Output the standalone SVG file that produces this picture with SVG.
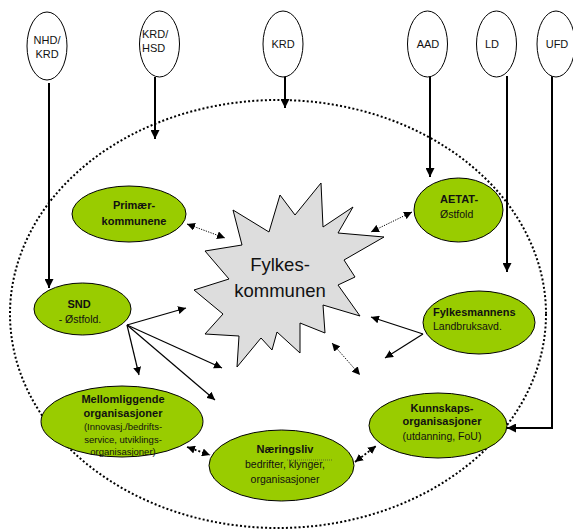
<svg xmlns="http://www.w3.org/2000/svg" width="573" height="532" viewBox="0 0 573 532">
<style>
  .top{fill:#fff;stroke:#000;stroke-width:1}
  .g{fill:#99cc00;stroke:#000;stroke-width:1}
  .t{font-family:"Liberation Sans",Arial,sans-serif;fill:#111}
  .b{font-weight:bold;font-size:11px}
  .r{font-size:10.5px}
  .s{font-size:9.5px}
  .vl{stroke:#000;stroke-width:2;fill:none}
  .sl{stroke:#000;stroke-width:1.2;fill:none}
  .dl{stroke:#000;stroke-width:1;stroke-dasharray:1.2,1.3;fill:none}
  .dl2{stroke:#000;stroke-width:1.8;stroke-dasharray:2,2;fill:none}
</style>
<defs>
  <marker id="a" viewBox="0 0 10 10" refX="10" refY="5" markerWidth="9" markerHeight="9" markerUnits="userSpaceOnUse" orient="auto-start-reverse">
    <path d="M0,0 L10,5 L0,10 z" fill="#000"/>
  </marker>
  <marker id="as" viewBox="0 0 10 10" refX="10" refY="5" markerWidth="8" markerHeight="8" markerUnits="userSpaceOnUse" orient="auto-start-reverse">
    <path d="M0,0 L10,5 L0,10 z" fill="#000"/>
  </marker>
</defs>
<rect width="573" height="532" fill="#fff"/>

<ellipse id="boundary" cx="278" cy="314" rx="268" ry="214" fill="none" stroke="#000" stroke-width="2" stroke-dasharray="2,2.2"/>

<g id="connectors">
  <line class="vl" x1="49" y1="83" x2="49" y2="288" marker-end="url(#a)"/>
  <line class="vl" x1="155" y1="77" x2="155" y2="139" marker-end="url(#a)"/>
  <line class="vl" x1="285" y1="76" x2="285" y2="108" marker-end="url(#a)"/>
  <line class="vl" x1="430" y1="76" x2="430" y2="177" marker-end="url(#a)"/>
  <line class="vl" x1="507" y1="76" x2="507" y2="272" marker-end="url(#a)"/>
  <path class="vl" d="M552,76 L552,428 L507,428" marker-end="url(#a)"/>

  <line class="dl" x1="187" y1="224" x2="225" y2="238" marker-start="url(#as)" marker-end="url(#as)"/>
  <line class="dl" x1="412" y1="212" x2="371" y2="232" marker-start="url(#as)" marker-end="url(#as)"/>
  <line class="dl" x1="332" y1="343" x2="360" y2="375" marker-start="url(#as)" marker-end="url(#as)"/>

  <line class="sl" x1="423" y1="334" x2="371" y2="317" marker-end="url(#as)"/>
  <line class="sl" x1="423" y1="334" x2="385" y2="358" marker-end="url(#as)"/>

  <line class="sl" x1="127" y1="325" x2="186" y2="308" marker-end="url(#as)"/>
  <line class="sl" x1="127" y1="325" x2="139" y2="375" marker-end="url(#as)"/>
  <line class="sl" x1="127" y1="325" x2="222" y2="368" marker-end="url(#as)"/>
  <line class="sl" x1="127" y1="325" x2="215" y2="400" marker-end="url(#as)"/>

  <line class="dl2" x1="187" y1="447" x2="210" y2="455" marker-start="url(#as)" marker-end="url(#as)"/>
  <line class="dl2" x1="355" y1="462" x2="376" y2="446" marker-start="url(#as)" marker-end="url(#as)"/>
</g>

<g id="n-nhd"><ellipse class="top" cx="47" cy="46" rx="20" ry="34"/>
  <text class="t" font-size="11" x="47" y="44" text-anchor="middle">NHD/</text>
  <text class="t" font-size="11" x="47" y="58" text-anchor="middle">KRD</text></g>
<g id="n-krdhsd"><ellipse class="top" cx="159.5" cy="44" rx="20" ry="33"/>
  <text class="t" font-size="11" x="142" y="38">KRD/</text>
  <text class="t" font-size="11" x="142" y="52">HSD</text></g>
<g id="n-krd"><ellipse class="top" cx="283" cy="44" rx="20" ry="33"/>
  <text class="t" font-size="11" x="283" y="48" text-anchor="middle">KRD</text></g>
<g id="n-aad"><ellipse class="top" cx="427.5" cy="44" rx="20" ry="33"/>
  <text class="t" font-size="11" x="428" y="48" text-anchor="middle">AAD</text></g>
<g id="n-ld"><ellipse class="top" cx="496.5" cy="44" rx="20" ry="33"/>
  <text class="t" font-size="11" x="492" y="48" text-anchor="middle">LD</text></g>
<g id="n-ufd"><ellipse class="top" cx="556" cy="44" rx="19" ry="33"/>
  <text class="t" font-size="11" x="557" y="48" text-anchor="middle">UFD</text></g>

<g id="n-fylkeskommunen">
  <polygon points="233,210 242,245 205,251 229,279 194,290 223,314 205,334 239,336 237,367 261,338 272,350 277,332 300,353 300,323 325,333 323,305 360,316 338,285 355,277 344,260 384,237 338,233 353,207 323,227 321,183 295,215 280,195 269,232" fill="#dddddd" stroke="#000" stroke-width="1"/>
  <text class="t" font-size="18.5" x="280" y="271" text-anchor="middle">Fylkes-</text>
  <text class="t" font-size="18.5" x="280" y="297" text-anchor="middle">kommunen</text>
</g>

<g id="n-primaer"><ellipse class="g" cx="129" cy="214" rx="57" ry="28"/>
  <text class="t b" x="134" y="209" text-anchor="middle">Primær-</text>
  <text class="t b" x="134" y="225" text-anchor="middle">kommunene</text></g>

<g id="n-aetat"><ellipse class="g" cx="458.5" cy="210" rx="44.5" ry="32"/>
  <text class="t b" x="440" y="203">AETAT-</text>
  <text class="t r" x="440" y="218">Østfold</text></g>

<g id="n-fylkesmannen"><ellipse class="g" cx="479" cy="322.5" rx="56" ry="31.5"/>
  <text class="t b" x="433" y="316">Fylkesmannens</text>
  <text class="t r" x="433" y="330">Landbruksavd.</text></g>

<g id="n-snd"><ellipse class="g" cx="82.5" cy="309" rx="48.5" ry="26"/>
  <text class="t b" x="79" y="308" text-anchor="middle">SND</text>
  <text class="t r" x="80" y="323" text-anchor="middle">- Østfold.</text></g>

<g id="n-mellom"><ellipse class="g" cx="122" cy="421.5" rx="81" ry="35.5"/>
  <text class="t b" x="123" y="403" text-anchor="middle">Mellomliggende</text>
  <text class="t b" x="123" y="417" text-anchor="middle">organisasjoner</text>
  <text class="t s" x="123" y="430" text-anchor="middle">(Innovasj./bedrifts-</text>
  <text class="t s" x="123" y="443" text-anchor="middle">service, utviklings-</text>
  <text class="t s" x="123" y="455" text-anchor="middle">organisasjoner)</text></g>

<g id="n-naering"><ellipse class="g" cx="281.5" cy="465.5" rx="72.5" ry="35.5"/>
  <text class="t b" x="285" y="453" text-anchor="middle">Næringsliv</text>
  <text class="t r" x="285" y="468" text-anchor="middle">bedrifter, klynger,</text>
  <text class="t r" x="285" y="483" text-anchor="middle">organisasjoner</text>
  <line x1="287" y1="460" x2="333" y2="460" stroke="#333" stroke-width="0.6" stroke-dasharray="1,1"/></g>

<g id="n-kunnskap"><ellipse class="g" cx="438" cy="425.5" rx="69" ry="32.5"/>
  <text class="t b" x="442" y="412" text-anchor="middle">Kunnskaps-</text>
  <text class="t b" x="442" y="425" text-anchor="middle">organisasjoner</text>
  <text class="t r" x="442" y="440" text-anchor="middle">(utdanning, FoU)</text></g>
</svg>
